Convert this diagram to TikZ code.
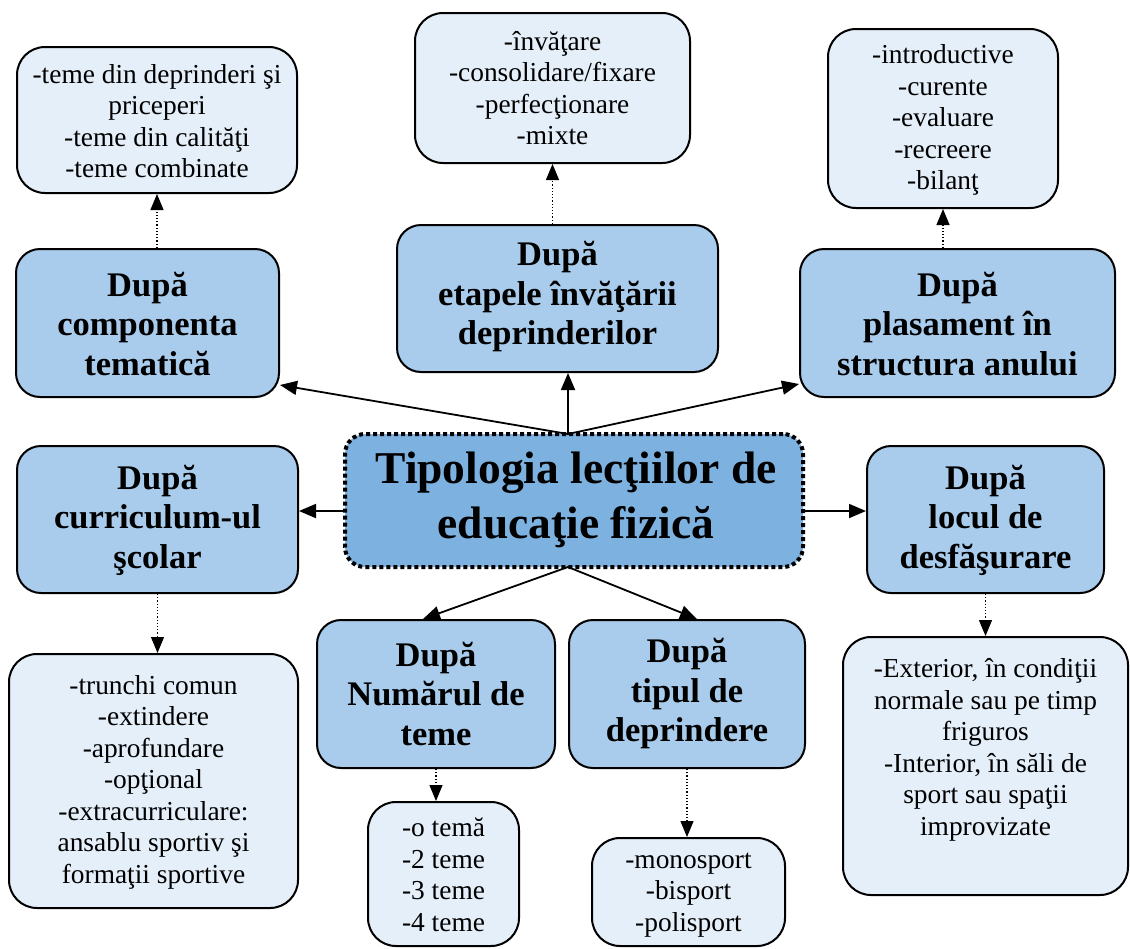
\documentclass[tikz,border=0pt]{standalone}
\usepackage{fontspec}
\setmainfont{Liberation Serif}
\usetikzlibrary{arrows.meta}
\definecolor{headfill}{HTML}{A9CCEC}
\definecolor{corefill}{HTML}{7DB1DF}
\definecolor{listfill}{HTML}{E5EFF9}
\tikzset{
  headbox/.style={draw=black, line width=2pt, rounded corners=24pt, fill=headfill, inner sep=0pt},
  listbox/.style={draw=black, line width=2pt, rounded corners=28pt, fill=listfill, inner sep=0pt},
  corebox/.style={draw=black, line width=4pt, dash pattern=on 4pt off 3pt, rounded corners=20pt, fill=corefill, inner sep=0pt},
  headtext/.style={align=center, font=\fontsize{34.5}{39.5}\selectfont\bfseries, inner sep=0pt},
  listtext/.style={align=center, font=\fontsize{27.4}{31.5}\selectfont, inner sep=0pt},
  coretext/.style={align=center, font=\fontsize{45.5}{55}\selectfont\bfseries, inner sep=0pt},
  mainarrow/.style={-{Triangle[length=17pt,width=14pt]}, line width=1.8pt},
  subarrow/.style={-{Triangle[length=16pt,width=13pt]}, line width=1.2pt, dotted},
}
\begin{document}
\begin{tikzpicture}[x=1pt, y=-1pt]
\useasboundingbox (0,0) rectangle (1130,948);

% central topic
\node[corebox, minimum width=458pt, minimum height=133pt] (C) at (574,500.5) {};
\node[coretext] (tC) at (576,500) {Tipologia lecţiilor de\\educaţie fizică};
\coordinate (ctop) at (568,434);
\coordinate (cbot) at (568,567);

% criteria
\node[headbox, minimum width=263pt, minimum height=148pt] (B1) at (147.5,323) {};
\node[headtext] (tB1) at (147.5,324) {După\\componenta\\tematică};
\node[headbox, minimum width=321pt, minimum height=147pt] (B2) at (557.5,298.5) {};
\node[headtext] (tB2) at (557.5,297) {După\\etapele învăţării\\deprinderilor};
\node[headbox, minimum width=315pt, minimum height=148pt] (B3) at (957.5,323) {};
\node[headtext] (tB3) at (957.5,324) {După\\plasament în\\structura anului};
\node[headbox, minimum width=281pt, minimum height=147pt] (B4) at (157.5,519.5) {};
\node[headtext] (tB4) at (157.5,520) {După\\curriculum-ul\\şcolar};
\node[headbox, minimum width=237pt, minimum height=147pt] (B5) at (985.5,519.5) {};
\node[headtext] (tB5) at (985.5,520) {După\\locul de\\desfăşurare};
\node[headbox, minimum width=238pt, minimum height=148pt] (B6) at (436,694) {};
\node[headtext] (tB6) at (436,694) {După\\Numărul de\\teme};
\node[headbox, minimum width=236pt, minimum height=148pt] (B7) at (687,694) {};
\node[headtext] (tB7) at (687,694) {După\\tipul de\\deprindere};

% lists
\node[listbox, minimum width=280pt, minimum height=146pt] (A1) at (157,120) {};
\node[listtext] (tA1) at (157,121) {-teme din deprinderi şi\\priceperi\\-teme din calităţi\\-teme combinate};
\node[listbox, minimum width=275pt, minimum height=150pt] (A2) at (552.5,88) {};
\node[listtext] (tA2) at (552.5,88) {-învăţare\\-consolidare/fixare\\-perfecţionare\\-mixte};
\node[listbox, minimum width=230pt, minimum height=179pt] (A3) at (943,118.5) {};
\node[listtext] (tA3) at (943,120) {-introductive\\-curente\\-evaluare\\-recreere\\-bilanţ};
\node[listbox, minimum width=289pt, minimum height=254pt] (D4) at (153.5,781) {};
\node[listtext] (tD4) at (153.5,782) {-trunchi comun\\-extindere\\-aprofundare\\-opţional\\-extracurriculare:\\ansablu sportiv şi\\formaţii sportive};
\node[listbox, minimum width=285pt, minimum height=258pt] (D5) at (985.5,766) {};
\node[listtext] (tD5) at (985.5,750) {-Exterior, în condiţii\\normale sau pe timp\\friguros\\-Interior, în săli de\\sport sau spaţii\\improvizate};
\node[listbox, minimum width=151pt, minimum height=144pt] (D6) at (443.5,874) {};
\node[listtext] (tD6) at (443.5,875) {-o temă\\-2 teme\\-3 teme\\-4 teme};
\node[listbox, minimum width=193pt, minimum height=108pt] (D7) at (688.5,892) {};
\node[listtext] (tD7) at (688.5,895) {-monosport\\-bisport\\-polisport};

% connectors from the central topic
\draw[mainarrow] (ctop) -- ([yshift=13pt]B1.south east);
\draw[mainarrow] (ctop) -- (ctop |- B2.south);
\draw[mainarrow] (ctop) -- ([yshift=14pt]B3.south west);
\draw[mainarrow] (C.west |- 0,511) -- (B4.east |- 0,511);
\draw[mainarrow] (C.east |- 0,511) -- (B5.west |- 0,511);
\draw[mainarrow] (cbot) -- ([xshift=-13pt]B6.north);
\draw[mainarrow] (cbot) -- ([xshift=10pt]B7.north);

% connectors to the lists
\draw[subarrow] (B1.north -| A1.south) -- (A1.south);
\draw[subarrow] (B2.north -| A2.south) -- (A2.south);
\draw[subarrow] (B3.north -| A3.south) -- (A3.south);
\draw[subarrow] (B4.south) -- (D4.north -| B4.south);
\draw[subarrow] (B5.south) -- (D5.north -| B5.south);
\draw[subarrow] (B6.south) -- (D6.north -| B6.south);
\draw[subarrow] (B7.south) -- (D7.north -| B7.south);
\end{tikzpicture}
\end{document}
